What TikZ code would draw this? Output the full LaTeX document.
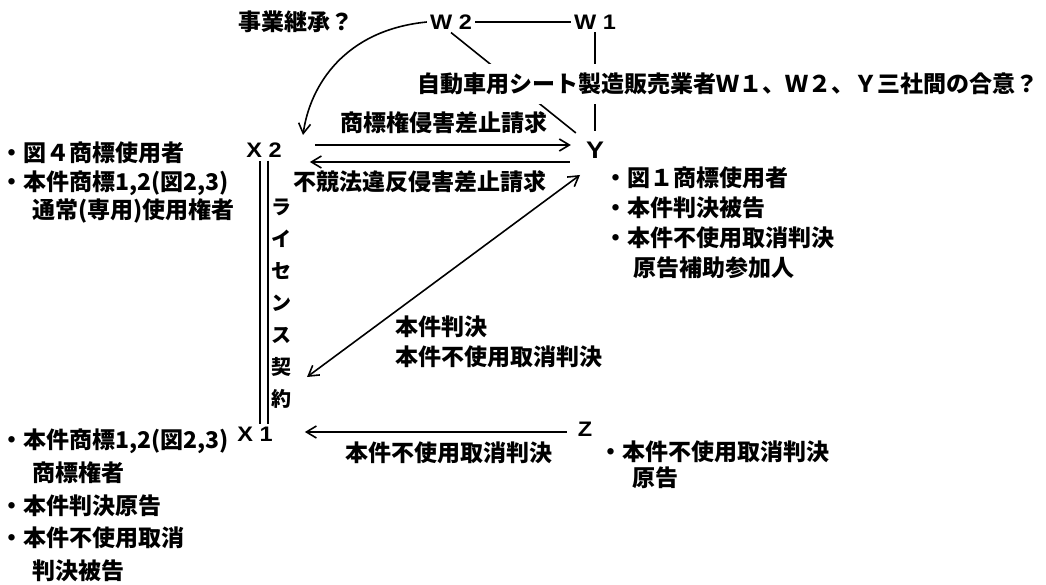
\documentclass[tikz,border=0pt]{standalone}
\usepackage{fontspec}
\setmainfont{Noto Sans CJK JP}
\newfontfamily\lat{Liberation Sans}[FakeStretch=1.12]
\usetikzlibrary{arrows.meta}
\begin{document}
\begin{tikzpicture}[x=1pt,y=-1pt,
  every node/.style={inner sep=0pt},
  jp/.style={font=\fontsize{23}{28}\selectfont\bfseries},
  ltr/.style={font=\lat\fontsize{21}{24}\selectfont\bfseries, inner sep=3pt},
  ln/.style={line width=1.6pt},
  barb/.tip={Straight Barb[length=10pt,width=12pt]},
  arr/.style={ln, -barb},
]
\useasboundingbox (0,0) rectangle (1046,585);

% parties
\node[ltr] (W2) at (451,22) {W 2};
\node[ltr] (W1) at (595,22) {W 1};
\node[ltr, font=\lat\fontsize{24}{26}\selectfont\bfseries] (Y) at (595,150) {Y};
\node[ltr] (X2) at (264,150) {X 2};
\node[ltr] (X1) at (255,434) {X 1};
\node[ltr] (Z) at (585,429) {Z};

% labels
\node[jp, anchor=west] (succ) at (238,22) {事業継承？};
\node[jp] (tm) at (444,123) {商標権侵害差止請求};
\node[jp] (uc) at (420,182) {不競法違反侵害差止請求};
\node[jp, align=left, anchor=west, font=\fontsize{23}{30}\selectfont\bfseries] (judg) at (395,342) {本件判決\\本件不使用取消判決};
\node[jp] (nonuse) at (449,453) {本件不使用取消判決};
\node[align=center, font=\fontsize{20}{32}\selectfont\bfseries] (lic) at (281,304) {ラ\\イ\\セ\\ン\\ス\\契\\約};

\node[align=left, anchor=west, font=\fontsize{23}{28.5}\selectfont\bfseries] (x2info) at (0,182.5)
  {・図４商標使用者\\・本件商標1,2(図2,3)\\\hspace*{32pt}通常(専用)使用権者};
\node[align=left, anchor=west, font=\fontsize{23}{32.75}\selectfont\bfseries] (x1info) at (0,505.5)
  {・本件商標1,2(図2,3)\\\hspace*{32pt}商標権者\\・本件判決原告\\・本件不使用取消\\\hspace*{32pt}判決被告};
\node[align=left, anchor=west, font=\fontsize{23}{30}\selectfont\bfseries] (yinfo) at (604,223)
  {・図１商標使用者\\・本件判決被告\\・本件不使用取消判決\\\hspace*{29pt}原告補助参加人};
\node[align=left, anchor=west, font=\fontsize{23}{26}\selectfont\bfseries] (zinfo) at (599,465)
  {・本件不使用取消判決\\\hspace*{33pt}原告};

% connectors
\draw[ln] (W2.east) -- (W1.west);
\draw[ln, shorten >=9pt] (W2.south) -- (Y.north west);
\draw[ln, shorten >=8pt] (W1.south) -- (Y.north);
\draw[arr] (W2.west) .. controls (345,30) and (310,85) .. ([shift={(39,-15)}]X2.center);
\draw[arr, shorten <=30pt, shorten >=12pt] ([yshift=5pt]X2.east) -- ([yshift=5pt]Y.west);
\draw[arr, shorten <=13pt, shorten >=25pt] ([yshift=-12pt]Y.west) -- ([yshift=-12pt]X2.east);
\draw[ln, barb-barb] ([shift={(-15,25)}]Y.center) -- ([shift={(52,-57)}]X1.center);
\draw[arr, shorten <=8pt, shorten >=29pt] ([yshift=-3pt]Z.west) -- ([yshift=-3pt]Z.west -| X1.east);
\draw[ln, double, double distance=6.5pt] (X2.south) -- (X2.south |- X1.north);

% agreement text over the lines
\node[jp, fill=white, inner xsep=2pt, inner ysep=9pt, anchor=west] (agree) at (415,84)
  {自動車用シート製造販売業者Ｗ１、Ｗ２、Ｙ三社間の合意？};
\end{tikzpicture}
\end{document}
